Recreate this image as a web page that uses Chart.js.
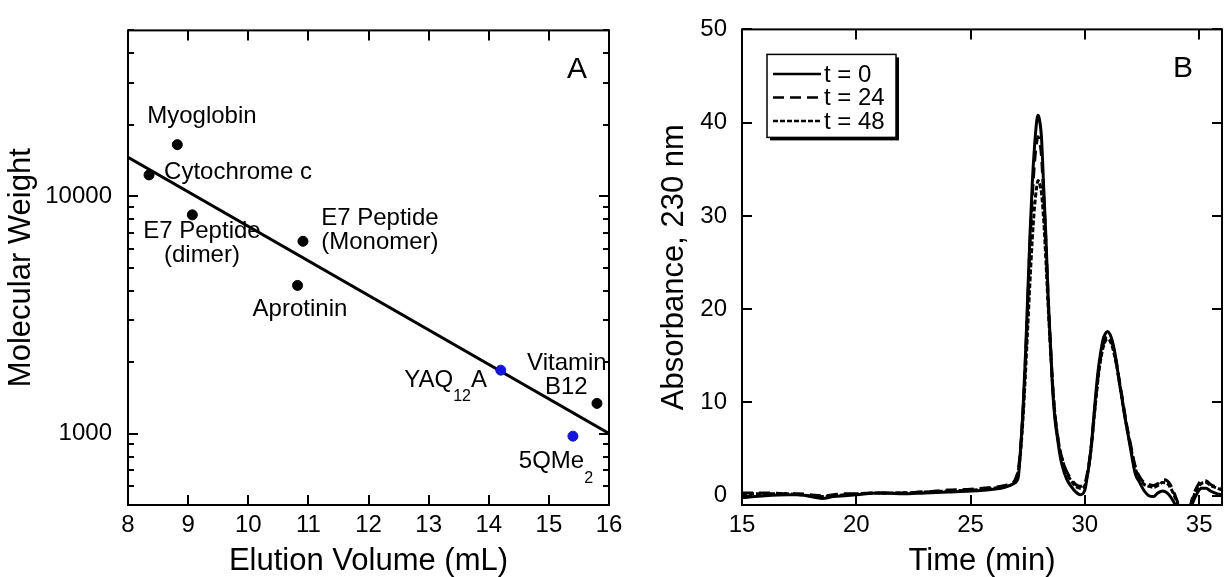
<!DOCTYPE html>
<html>
<head>
<meta charset="utf-8">
<script src="https://cdn.jsdelivr.net/npm/chart.js@4.4.1/dist/chart.umd.min.js"></script>
<style>
  html, body { margin: 0; padding: 0; background: #fff; }
  #wrap { position: relative; width: 1225px; height: 577px; overflow: hidden; }
  #chartA { position: absolute; left: 0; top: 0; }
  #chartB { position: absolute; left: 615px; top: 0; }
</style>
</head>
<body>
<div id="wrap">
  <canvas id="chartA" width="640" height="577"></canvas>
  <canvas id="chartB" width="610" height="577"></canvas>
</div>
<script>
const FONT = '"Liberation Sans", Arial, Helvetica, sans-serif';

// ---- Panel A: calibration (elution volume vs molecular weight) ----
const standardsVol = [8.35, 8.82, 9.07, 10.82, 10.91, 15.8];
const standardsMW = [12300, 16500, 8350, 4210, 6460, 1340];
const samplesVol = [14.2, 15.4];
const samplesMW = [1850, 975];
const fitVol = [8, 16];
const fitMW = [14600, 1000];
const xTicksA = [8, 9, 10, 11, 12, 13, 14, 15, 16];
const yTicksA = [500, 600, 700, 800, 900, 1000, 2000, 3000, 4000, 5000, 6000, 7000, 8000, 9000,
                 10000, 20000, 30000, 40000, 50000];
const yLabelsA = [1000, 10000];

// point notes, placed in data units
const notesA = [
  { text: 'Myoglobin', x: 8.32, y: 21700, align: 'left' },
  { text: 'Cytochrome c', x: 8.6, y: 12560, align: 'left' },
  { text: 'E7 Peptide', x: 9.23, y: 7080, align: 'center' },
  { text: '(dimer)', x: 9.23, y: 5620, align: 'center' },
  { text: 'E7 Peptide', x: 12.19, y: 8070, align: 'center' },
  { text: '(Monomer)', x: 12.19, y: 6410, align: 'center' },
  { text: 'Aprotinin', x: 10.86, y: 3350, align: 'center' },
  { text: 'Vitamin', x: 15.30, y: 1973, align: 'center' },
  { text: 'B12', x: 15.29, y: 1567, align: 'center' }
];
// notes with subscripts: [text, isSub]
const subNotesA = [
  { parts: [['YAQ', false], ['12', true], ['A', false]], x: 13.97, y: 1682, align: 'right' },
  { parts: [['5QMe', false], ['2', true]], x: 14.5, y: 762, align: 'left' }
];

// ---- Panel B: chromatograms ----
const timeB = [
  15, 16, 17, 17.5, 18, 18.5, 19, 19.5, 20, 21, 22, 23, 24, 25, 26, 26.5, 26.9,
  27.0, 27.1, 27.2, 27.3, 27.4, 27.5, 27.6, 27.7, 27.8, 27.9, 27.95, 28.0, 28.1, 28.2, 28.3, 28.4,
  28.5, 28.6, 28.7, 28.8, 28.9, 29.0, 29.2, 29.4, 29.6, 29.8,
  30.0, 30.1, 30.2, 30.3, 30.4, 30.5, 30.6, 30.7, 30.8, 30.9, 31.0, 31.1, 31.2, 31.3, 31.4, 31.5,
  31.6, 31.7, 31.8, 32.0, 32.2, 32.4, 32.6, 32.8,
  33.0, 33.2, 33.4, 33.6, 33.8, 34.0, 34.2, 34.5, 34.7, 34.9, 35.1, 35.3, 35.5, 35.8, 36.0
];
const absT0 = [
  -0.2, 0.0, 0.1, 0.1, -0.1, -0.3, -0.1, 0.0, 0.1, 0.3, 0.2, 0.3, 0.4, 0.5, 0.7, 0.9, 1.3,
  1.5, 2.2, 5.5, 9.5, 15, 21.5, 28, 33.5, 37.5, 40.3, 40.8, 40.5, 38.5, 33, 27.5, 21,
  16, 11, 8, 6.2, 4.5, 3.3, 1.8, 1.0, 0.4, 0.1,
  0.6, 2, 3.6, 5.8, 8.7, 11.5, 13.8, 15.5, 16.8, 17.4, 17.6, 17.3, 16.6, 15.5, 14, 12.3,
  10.8, 9.2, 7.8, 5.0, 2.4, 1.4, 0.5, 0.0,
  -0.1, 0.3, 0.5, 0.3, -0.3, -1.2, -2.2, -2.5, -0.9, 0.2, 0.8, 0.8, 0.5, 0.2, 0.1
];
const absT24 = [
  0.3, 0.3, 0.2, 0.2, 0.1, 0.0, 0.1, 0.2, 0.2, 0.3, 0.3, 0.4, 0.6, 0.7, 0.9, 1.1, 1.5,
  2.0, 3.0, 5.5, 9.5, 14.5, 20.5, 27, 32, 35.8, 38, 38.5, 38.2, 36.5, 32, 27, 21,
  16, 11.5, 8.5, 6.5, 5, 4, 2.6, 1.8, 1.2, 1.0,
  1.3, 2.3, 3.8, 5.8, 8.5, 11, 13.3, 15, 16.2, 16.9, 17.1, 16.9, 16.3, 15.3, 14, 12.5,
  11, 9.5, 8, 5.5, 3.2, 2.0, 1.4, 1.2,
  1.1, 1.3, 1.7, 1.6, 0.9, -0.3, -1.5, -2, -0.3, 0.9, 1.6, 1.6, 1.2, 0.9, 0.8
];
const absT48 = [
  0.2, 0.2, 0.2, 0.1, 0.0, -0.1, 0.0, 0.1, 0.2, 0.3, 0.3, 0.4, 0.5, 0.6, 0.8, 1.0, 1.4,
  1.9, 2.8, 5, 8.5, 13, 18, 23, 27.5, 31, 33.2, 33.8, 33.6, 32.5, 29.5, 25, 20,
  15.5, 11.5, 8.5, 6.5, 5, 4, 2.5, 1.6, 1.0, 0.8,
  1.1, 2.1, 3.6, 5.6, 8.2, 10.7, 13, 14.7, 15.9, 16.6, 16.8, 16.6, 16, 15, 13.8, 12.3,
  10.8, 9.3, 7.8, 5.3, 3.0, 1.8, 1.2, 1.0,
  0.9, 1.1, 1.4, 1.3, 0.6, -0.5, -1.6, -2, -0.5, 0.7, 1.3, 1.4, 1.1, 0.8, 0.6
];
const seriesLabelsB = ['t = 0', 't = 24', 't = 48'];
const xTicksB = [15, 20, 25, 30, 35];
const yTicksB = [0, 10, 20, 30, 40, 50];

const toXY = (xs, ys) => xs.map((x, i) => ({ x: x, y: ys[i] }));

// frame + inward tick marks on all four sides
const frameTicks = {
  id: 'frameTicks',
  afterDatasetsDraw(chart) {
    const { ctx, chartArea: a } = chart;
    const xs = chart.scales.x, ys = chart.scales.y;
    ctx.save();
    ctx.strokeStyle = '#000';
    ctx.lineWidth = 2;
    ctx.beginPath();
    xs.ticks.forEach(t => {
      const p = Math.round(xs.getPixelForValue(t.value));
      const len = t.label ? 10 : 6;
      ctx.moveTo(p, a.bottom); ctx.lineTo(p, a.bottom - len);
      ctx.moveTo(p, a.top); ctx.lineTo(p, a.top + len);
    });
    ys.ticks.forEach(t => {
      const p = Math.round(ys.getPixelForValue(t.value));
      const len = t.label ? 10 : 6;
      ctx.moveTo(a.left, p); ctx.lineTo(a.left + len, p);
      ctx.moveTo(a.right, p); ctx.lineTo(a.right - len, p);
    });
    ctx.stroke();
    ctx.strokeRect(a.left, a.top, a.right - a.left, a.bottom - a.top);
    ctx.restore();
  }
};

// panel letter in the top right corner
const panelLetter = {
  id: 'panelLetter',
  afterDraw(chart, args, opts) {
    const { ctx, chartArea: a } = chart;
    ctx.save();
    ctx.fillStyle = '#000';
    ctx.font = '30px ' + FONT;
    ctx.textAlign = 'center';
    ctx.textBaseline = 'middle';
    ctx.fillText(opts.text, a.right - opts.dx, a.top + 39);
    ctx.restore();
  }
};

const notes = {
  id: 'notes',
  afterDatasetsDraw(chart) {
    const { ctx, scales: { x, y } } = chart;
    ctx.save();
    ctx.fillStyle = '#000';
    ctx.textBaseline = 'middle';
    ctx.font = '24px ' + FONT;
    notesA.forEach(n => {
      ctx.textAlign = n.align;
      ctx.fillText(n.text, x.getPixelForValue(n.x), y.getPixelForValue(n.y));
    });
    ctx.textAlign = 'left';
    subNotesA.forEach(n => {
      const widths = n.parts.map(([s, sub]) => {
        ctx.font = (sub ? '16px ' : '24px ') + FONT;
        return ctx.measureText(s).width;
      });
      const total = widths.reduce((a, b) => a + b, 0);
      let px = x.getPixelForValue(n.x);
      if (n.align === 'right') px -= total;
      const py = y.getPixelForValue(n.y);
      n.parts.forEach(([s, sub], i) => {
        ctx.font = (sub ? '16px ' : '24px ') + FONT;
        ctx.fillText(s, px, sub ? py + 17 : py);
        px += widths[i];
      });
    });
    ctx.restore();
  }
};

// legend box with drop shadow
const legendBox = {
  id: 'legendBox',
  afterDraw(chart) {
    const { ctx, chartArea: a } = chart;
    const x0 = a.left + 25, y0 = a.top + 25, w = 129, h = 83;
    ctx.save();
    ctx.fillStyle = '#000';
    ctx.fillRect(x0 + 3, y0 + 3, w, h);
    ctx.fillStyle = '#fff';
    ctx.fillRect(x0, y0, w, h);
    ctx.strokeStyle = '#000';
    ctx.lineWidth = 1.5;
    ctx.strokeRect(x0, y0, w, h);
    ctx.font = '24px ' + FONT;
    ctx.textAlign = 'left';
    ctx.textBaseline = 'middle';
    ctx.fillStyle = '#000';
    chart.data.datasets.forEach((ds, i) => {
      const yy = y0 + 19.5 + i * 23.6;
      ctx.lineWidth = 2.5;
      ctx.setLineDash(ds.borderDash || []);
      ctx.beginPath();
      ctx.moveTo(x0 + 6, yy);
      ctx.lineTo(x0 + 54, yy);
      ctx.stroke();
      ctx.setLineDash([]);
      ctx.fillText(ds.label, x0 + 57, yy + 1);
    });
    ctx.restore();
  }
};

const tickFont = { family: FONT, size: 24 };
const titleFont = { family: FONT, size: 31, lineHeight: 1 };

Chart.defaults.color = '#000';

new Chart(document.getElementById('chartA'), {
  type: 'scatter',
  data: {
    datasets: [
      {
        label: 'Standards',
        data: toXY(standardsVol, standardsMW),
        backgroundColor: '#000',
        borderColor: '#000',
        pointRadius: 5,
        order: 1
      },
      {
        label: 'Samples',
        data: toXY(samplesVol, samplesMW),
        backgroundColor: 'rgb(20, 20, 225)',
        borderColor: 'rgb(20, 20, 225)',
        pointRadius: 5,
        order: 1
      },
      {
        label: 'Fit',
        data: toXY(fitVol, fitMW),
        showLine: true,
        borderColor: '#000',
        borderWidth: 3,
        pointRadius: 0,
        order: 2
      }
    ]
  },
  options: {
    responsive: false,
    animation: false,
    layout: { padding: { left: 6, top: 28, right: 31, bottom: 0 } },
    plugins: {
      legend: { display: false },
      tooltip: { enabled: false },
      panelLetter: { text: 'A', dx: 32 }
    },
    scales: {
      x: {
        type: 'linear',
        min: 8,
        max: 16,
        afterBuildTicks: s => { s.ticks = xTicksA.map(v => ({ value: v })); },
        afterFit: s => { s.height = 72; },
        grid: { display: false, drawTicks: false },
        border: { display: false },
        ticks: { font: tickFont, padding: 6, autoSkip: false, maxRotation: 0, callback: v => String(v) },
        title: { display: true, text: 'Elution Volume (mL)', font: titleFont, padding: 0 }
      },
      y: {
        type: 'logarithmic',
        min: 500,
        max: 50000,
        afterBuildTicks: s => { s.ticks = yTicksA.map(v => ({ value: v })); },
        afterFit: s => { s.width = 122; },
        grid: { display: false, drawTicks: false },
        border: { display: false },
        ticks: {
          font: tickFont,
          padding: 16,
          autoSkip: false,
          callback: v => yLabelsA.includes(v) ? String(v) : ''
        },
        title: { display: true, text: 'Molecular Weight', font: titleFont, padding: 0 }
      }
    }
  },
  plugins: [frameTicks, notes, panelLetter]
});

new Chart(document.getElementById('chartB'), {
  type: 'line',
  data: {
    datasets: [
      { label: seriesLabelsB[0], data: toXY(timeB, absT0), borderColor: '#000', borderWidth: 3, borderDash: [] },
      { label: seriesLabelsB[1], data: toXY(timeB, absT24), borderColor: '#000', borderWidth: 3, borderDash: [11, 6] },
      { label: seriesLabelsB[2], data: toXY(timeB, absT48), borderColor: '#000', borderWidth: 3, borderDash: [5, 2] }
    ]
  },
  options: {
    responsive: false,
    animation: false,
    layout: { padding: { left: 44, top: 28, right: 3, bottom: 0 } },
    elements: { point: { radius: 0 }, line: { cubicInterpolationMode: 'monotone' } },
    plugins: {
      legend: { display: false },
      tooltip: { enabled: false },
      panelLetter: { text: 'B', dx: 39 }
    },
    scales: {
      x: {
        type: 'linear',
        min: 15,
        max: 36,
        afterBuildTicks: s => { s.ticks = xTicksB.map(v => ({ value: v })); },
        afterFit: s => { s.height = 72; },
        grid: { display: false, drawTicks: false },
        border: { display: false },
        ticks: { font: tickFont, padding: 6, autoSkip: false, maxRotation: 0 },
        title: { display: true, text: 'Time (min)', font: titleFont, padding: 0 }
      },
      y: {
        type: 'linear',
        min: -1,
        max: 50,
        afterBuildTicks: s => { s.ticks = yTicksB.map(v => ({ value: v })); },
        afterFit: s => { s.width = 83; },
        grid: { display: false, drawTicks: false },
        border: { display: false },
        ticks: { font: tickFont, padding: 15, autoSkip: false },
        title: { display: true, text: 'Absorbance, 230 nm', font: titleFont, padding: 0 }
      }
    }
  },
  plugins: [frameTicks, legendBox, panelLetter]
});
</script>
</body>
</html>
